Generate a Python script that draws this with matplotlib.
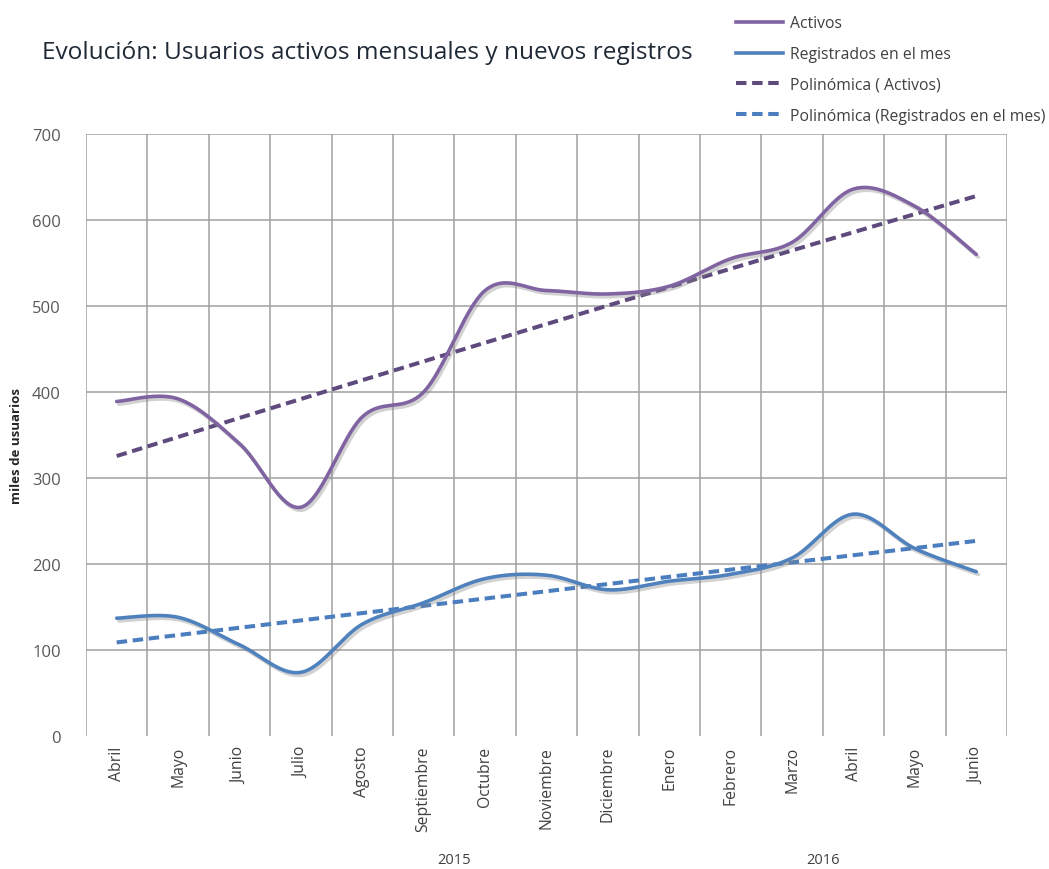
import numpy as np
import matplotlib
matplotlib.use("Agg")
import matplotlib.pyplot as plt
import matplotlib.patheffects as pe
from matplotlib.lines import Line2D

# ---- data ----
months = ["Abril", "Mayo", "Junio", "Julio", "Agosto", "Septiembre", "Octubre",
          "Noviembre", "Diciembre", "Enero", "Febrero", "Marzo", "Abril", "Mayo", "Junio"]
years = ["2015", "2016"]
year_pos = [5.5, 11.5]
activos = [389, 392, 340, 266, 371, 400, 518, 518, 514, 523, 555, 574, 636, 616, 560]
registrados = [137, 138, 106, 74, 130, 155, 183, 187, 170, 180, 188, 207, 258, 218, 191]
yticks = [0, 100, 200, 300, 400, 500, 600, 700]

FONT = "Open Sans"
C_ACT = "#8064A2"
C_REG = "#4F81BD"
C_ACT_T = "#5F4A7E"
C_REG_T = "#4A7EBF"


def smooth(xs, ys, n=40):
    xs = np.asarray(xs, float)
    ys = np.asarray(ys, float)
    P = np.column_stack([xs, ys])
    P = np.vstack([P[0], P, P[-1]])
    out = []
    for i in range(1, len(P) - 2):
        p0, p1, p2, p3 = P[i - 1], P[i], P[i + 1], P[i + 2]
        c1 = p1 + (p2 - p0) / 6.0
        c2 = p2 - (p3 - p1) / 6.0
        t = np.linspace(0, 1, n)[:, None]
        seg = ((1 - t) ** 3) * p1 + 3 * ((1 - t) ** 2) * t * c1 + 3 * (1 - t) * t ** 2 * c2 + t ** 3 * p2
        out.append(seg if i == 1 else seg[1:])
    seg = np.vstack(out)
    return seg[:, 0], seg[:, 1]


fig = plt.figure(figsize=(10.49, 8.70), dpi=100)
ax = fig.add_axes([86 / 1049, 1 - 737 / 870, (1007 - 86) / 1049, (737 - 135) / 870])

x = np.arange(len(months))

# grid
grid_c = "#A0A0A0"
for yv in yticks[1:]:
    ax.axhline(yv, color=grid_c, lw=1.1, zorder=1)
for xv in np.arange(len(months) + 1) - 0.5:
    ax.axvline(xv, color=grid_c, lw=1.1, zorder=1)

shadow = [pe.SimpleLineShadow(offset=(1.5, -2.0), shadow_color="#808080", alpha=0.35), pe.Normal()]

sx, sy = smooth(x, activos)
ax.plot(sx, sy, color=C_ACT, lw=2.6, solid_capstyle="round", path_effects=shadow, zorder=4)
sx, sy = smooth(x, registrados)
ax.plot(sx, sy, color=C_REG, lw=2.6, solid_capstyle="round", path_effects=shadow, zorder=4)

# polynomial trendlines fitted to the data
pa = np.polyfit(x, activos, 2)
pr = np.polyfit(x, registrados, 2)
xt = np.linspace(0, len(months) - 1, 200)
ax.plot(xt, np.polyval(pa, xt), color=C_ACT_T, lw=2.9, dashes=(2.6, 1.4), zorder=3)
ax.plot(xt, np.polyval(pr, xt), color=C_REG_T, lw=2.9, dashes=(2.6, 1.4), zorder=3)

ax.set_xlim(-0.5, len(months) - 0.5)
ax.set_ylim(0, 700)
ax.set_yticks(yticks)
ax.set_yticklabels([str(v) for v in yticks], fontsize=12, color="#595959", family=FONT)
ax.set_xticks(x)
ax.set_xticklabels(months, rotation=90, fontsize=11.3, color="#404040", family=FONT, va="top")
ax.tick_params(axis="both", length=0)
ax.tick_params(axis="y", pad=18)
ax.tick_params(axis="x", pad=7)
for s in ax.spines.values():
    s.set_visible(False)

for yl, yp in zip(years, year_pos):
    ax.text(yp, -0.205, yl, transform=ax.get_xaxis_transform(), ha="center", va="center",
            fontsize=10.5, color="#404040", family=FONT)

fig.text(17 / 1049, 1 - 446 / 870, "miles de usuarios", rotation=90, ha="center", va="center",
         fontsize=9.5, fontweight="bold", color="#262626", family=FONT)

fig.text(42 / 1049, 1 - 53 / 870, "Evolución: Usuarios activos mensuales y nuevos registros",
         ha="left", va="center", fontsize=17.6, color="#1F2A36", family=FONT)

handles = [
    Line2D([], [], color=C_ACT, lw=2.6),
    Line2D([], [], color=C_REG, lw=2.6),
    Line2D([], [], color=C_ACT_T, lw=2.9, dashes=(2.6, 1.4)),
    Line2D([], [], color=C_REG_T, lw=2.9, dashes=(2.6, 1.4)),
]
labels = ["Activos", "Registrados en el mes", "Polinómica ( Activos)", "Polinómica (Registrados en el mes)"]
leg = fig.legend(handles, labels, loc="upper left", bbox_to_anchor=(722 / 1049, 1 - 2 / 870),
                 frameon=False, handlelength=3.0, handletextpad=0.45, labelspacing=0.95,
                 prop={"family": FONT, "size": 11.3})
for t in leg.get_texts():
    t.set_color("#404040")

fig.savefig("out.png", dpi=100)
